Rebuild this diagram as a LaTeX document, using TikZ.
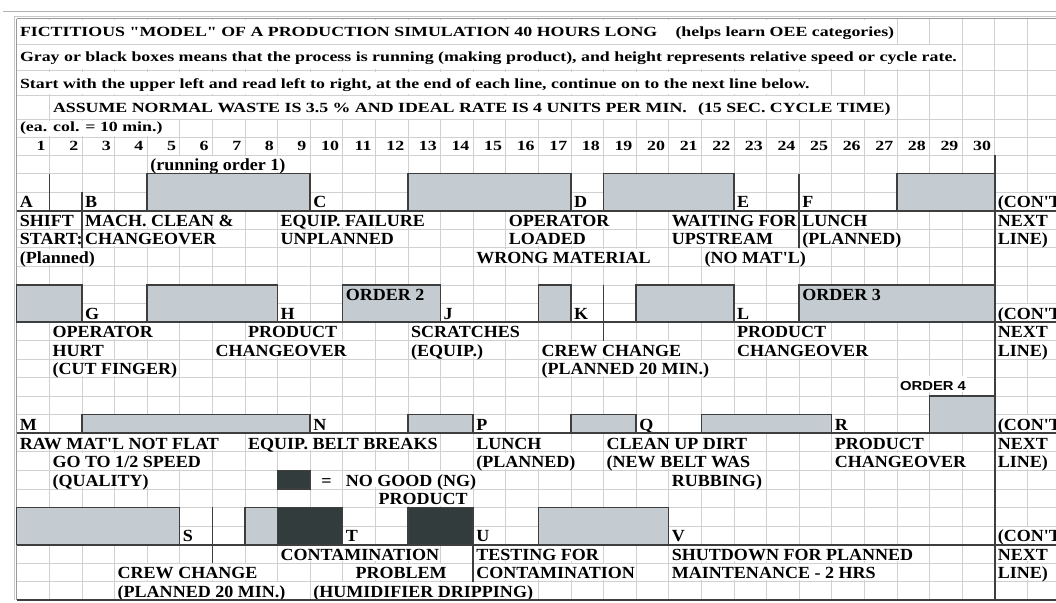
\documentclass[tikz,border=0pt]{standalone}
\usepackage{fontspec}
\setmainfont{Liberation Serif}
\newfontfamily\chartf{Liberation Serif}[FakeStretch=1.06]
\newfontfamily\titlef{Liberation Serif}[FakeStretch=1.275]
\newfontfamily\sansf{Liberation Sans}[FakeStretch=1.14]
\definecolor{boxgray}{RGB}{196,204,209}
\definecolor{ngdark}{RGB}{50,60,60}
\definecolor{gridc}{RGB}{208,208,208}
\definecolor{rulec}{RGB}{62,62,62}
\newcommand\chartfont{\chartf\fontsize{17}{17}\selectfont\bfseries}
\newcommand\titlefont{\titlef\fontsize{14}{14}\selectfont\bfseries}
\newcounter{lb}
\newcommand\lab[4][]{\stepcounter{lb}\node[lab,#1] (t\arabic{lb}) at (#2,#3) {#4};}
\tikzset{
  gridl/.style={draw=gridc, line width=0.7pt},
  gbox/.style={draw=rulec, line width=1.4pt, fill=boxgray},
  nbox/.style={draw=rulec, line width=1.4pt, fill=ngdark},
  evline/.style={draw=rulec, line width=1.5pt},
  rule/.style={draw=rulec, line width=2pt},
  lbl/.style={anchor=base west, inner xsep=0.8pt, inner ysep=0pt, fill=white,
              text height=15pt, text depth=1pt, font=\chartfont},
  lab/.style={lbl, xshift=2.2pt, yshift=2.8pt},
  ttl/.style={anchor=base west, inner xsep=0.8pt, inner ysep=0pt, fill=white, font=\titlefont},
  num/.style={anchor=base east, inner sep=0pt, font=\titlefont},
}
\begin{document}
\begin{tikzpicture}[x=1pt,y=-1pt]
\useasboundingbox (0,0) rectangle (1056,602);
\fill[white] (0,0) rectangle (1056,602);
% top separator and frame
\draw[draw=black!30, line width=0.8pt] (3,11.8) -- (1056,11.8);
\foreach \k in {1,...,31} \draw[gridl] ({16.7+32.6*\k},18.6) -- ({16.7+32.6*\k},600.3);
\foreach \yy in {44.3,70,95,119.8,137} \draw[gridl] (16.7,\yy) -- (1056,\yy);
\foreach \j in {0,...,23} \draw[gridl] (16.7,{155+18.55*\j}) -- (1056,{155+18.55*\j});
\draw[draw=black!22, line width=0.6pt] (14.3,16.4) -- (1056,16.4);
\draw[draw=black!22, line width=0.6pt] (14.3,16.4) -- (14.3,600.3);
\draw[draw=black!40, line width=0.9pt] (16.7,18.6) -- (1056,18.6);
\draw[draw=black!40, line width=0.9pt] (16.7,18.6) -- (16.7,600.3);
% title rows
\node[ttl, text height=17pt, text depth=6.6pt] (title1) at (19,37)
  {FICTITIOUS "MODEL" OF A PRODUCTION SIMULATION 40 HOURS LONG\hspace{1.3em}(helps learn OEE categories)};
\node[ttl, text height=16.5pt, text depth=6.8pt] (title2) at (19,62)
  {Gray or black boxes means that the process is running (making product), and height represents relative speed or cycle rate.};
\node[ttl, text height=16.5pt, text depth=6pt] (title3) at (19,88)
  {Start with the upper left and read left to right, at the end of each line, continue on to the next line below.};
\node[ttl, text height=16.5pt, text depth=6.5pt] (title4) at (52,112.5)
  {ASSUME NORMAL WASTE IS 3.5 \% AND IDEAL RATE IS 4 UNITS PER MIN.\hspace{0.8em}(15 SEC. CYCLE TIME)};
\node[ttl, text height=10.5pt, text depth=5pt] (title5) at (19,131)
  {(ea. col. = 10 min.)};
\foreach \k in {1,...,30} \node[num] (n\k) at ({16.7+32.6*\k-3.5},150.5) {\k};

\begin{scope}[shift={(16.7pt,-155pt)}, x=32.6pt, y=-18.55pt]
% ---------- band 1
\lab{4}{1}{(running order 1)}
\lab{0}{3}{A}\lab{2}{3}{B}\lab{9}{3}{C}\lab{17}{3}{D}\lab{22}{3}{E}\lab{24}{3}{F}\lab{30}{3}{(CON'T}
\lab{0}{4}{SHIFT}\lab{2}{4}{MACH. CLEAN \&}\lab{8}{4}{EQUIP. FAILURE}\lab{15}{4}{OPERATOR}
\lab{20}{4}{WAITING FOR}\lab{24}{4}{LUNCH}\lab{30}{4}{NEXT}
\lab{0}{5}{START:}\lab{2}{5}{CHANGEOVER}\lab{8}{5}{UNPLANNED}\lab{15}{5}{LOADED}
\lab{20}{5}{UPSTREAM}\lab{24}{5}{(PLANNED)}\lab{30}{5}{LINE)}
\lab{0}{6}{(Planned)}\lab{14}{6}{WRONG MATERIAL}\lab{21}{6}{(NO MAT'L)}
% ---------- band 2
\lab{2}{9}{G}\lab{8}{9}{H}\lab{13}{9}{J}\lab{17}{9}{K}\lab{22}{9}{L}\lab{30}{9}{(CON'T}
\lab{1}{10}{OPERATOR}\lab{7}{10}{PRODUCT}\lab{12}{10}{SCRATCHES}\lab{22}{10}{PRODUCT}\lab{30}{10}{NEXT}
\lab{1}{11}{HURT}\lab{6}{11}{CHANGEOVER}\lab{12}{11}{(EQUIP.)}\lab{16}{11}{CREW CHANGE}
\lab{22}{11}{CHANGEOVER}\lab{30}{11}{LINE)}
\lab{1}{12}{(CUT FINGER)}\lab{16}{12}{(PLANNED 20 MIN.)}
\lab[font=\sansf\fontsize{13}{13}\selectfont\bfseries, yshift=2.5pt]{27}{13}{ORDER 4}
% ---------- band 3
\lab{0}{15}{M}\lab{9}{15}{N}\lab{14}{15}{P}\lab{19}{15}{Q}\lab{25}{15}{R}\lab{30}{15}{(CON'T}
\lab{0}{16}{RAW MAT'L NOT FLAT}\lab{7}{16}{EQUIP. BELT BREAKS}\lab{14}{16}{LUNCH}
\lab{18}{16}{CLEAN UP DIRT}\lab{25}{16}{PRODUCT}\lab{30}{16}{NEXT}
\lab{1}{17}{GO TO 1/2 SPEED}\lab{14}{17}{(PLANNED)}\lab{18}{17}{(NEW BELT WAS}
\lab{25}{17}{CHANGEOVER}\lab{30}{17}{LINE)}
\lab{1}{18}{(QUALITY)}\lab{10}{18}{NO GOOD (NG)}\lab{20}{18}{RUBBING)}
\node[lbl, anchor=base, yshift=2.8pt] (eq) at (9.5,18) {=};
\lab{11}{19}{PRODUCT}
% ---------- band 4
\lab{5}{21}{S}\lab{10}{21}{T}\lab{14}{21}{U}\lab{20}{21}{V}\lab{30}{21}{(CON'T}
\lab{8}{22}{CONTAMINATION}\lab{14}{22}{TESTING FOR}\lab{20}{22}{SHUTDOWN FOR PLANNED}\lab{30}{22}{NEXT}
\lab{3}{23}{CREW CHANGE}\lab{14}{23}{CONTAMINATION}\lab{20}{23}{MAINTENANCE - 2 HRS}\lab{30}{23}{LINE)}
\node[lbl, anchor=base east, yshift=2.8pt] (prob) at (13.22,23) {PROBLEM};
\lab{3}{24}{(PLANNED 20 MIN.)}\lab{9}{24}{(HUMIDIFIER DRIPPING)}

% ---------- boxes
\draw[gbox] (4,1) rectangle (9,3);
\draw[gbox] (12,1) rectangle (17,3);
\draw[gbox] (18,1) rectangle (22,3);
\draw[gbox] (27,1) rectangle (30,3);
\draw[gbox] (0,7) rectangle (2,9);
\draw[gbox] (4,7) rectangle (8,9);
\draw[gbox] (10,7) rectangle (13,9);
\draw[gbox] (16,7) rectangle (17,9);
\draw[gbox] (19,7) rectangle (22,9);
\draw[gbox] (24,7) rectangle (30,9);
\draw[gbox] (2,14) rectangle (9,15);
\draw[gbox] (12,14) rectangle (14,15);
\draw[gbox] (17,14) rectangle (19,15);
\draw[gbox] (21,14) rectangle (25,15);
\draw[gbox] (28,13) rectangle (30,15);
\draw[nbox] (8,17) rectangle (9,18);
\draw[gbox] (0,19) rectangle (5,21);
\draw[gbox] (7,19) rectangle (8,21);
\draw[nbox] (8,19) rectangle (10,21);
\draw[nbox] (12,19) rectangle (14,21);
\draw[gbox] (16,19) rectangle (20,21);
\lab[fill=none]{10}{8}{ORDER 2}
\lab[fill=none]{24}{8}{ORDER 3}
% ---------- event lines
\draw[evline] (1,1) -- (1,3);
\draw[evline] (2,2) -- (2,5);
\draw[evline] (24,1) -- (24,5);
\draw[evline] (18,7) -- (18,10);
\draw[evline] (6,19) -- (6,22);
\draw[evline] (14,21) -- (14,23);
% ---------- rules
\foreach \j in {3,9,15,21} \draw[rule] (0,\j) -- (32,\j);
\draw[rule] (0,24) -- (32,24);
\draw[rule] (30,0) -- (30,24);
\end{scope}
\end{tikzpicture}
\end{document}
